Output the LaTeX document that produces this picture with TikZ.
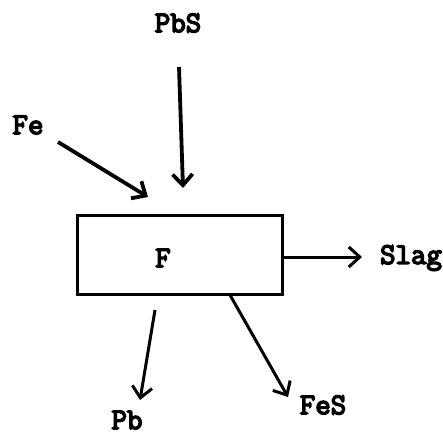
\documentclass[tikz,border=0pt]{standalone}
\usepackage{fontspec}
\newfontfamily\twfont{Latin Modern Mono}[FakeBold=5]
\usetikzlibrary{arrows.meta}
\begin{document}
\begin{tikzpicture}[x=1pt,y=-1pt,
  lbl/.style={font=\twfont\fontsize{30}{30}\selectfont, inner sep=0pt, anchor=center},
  flow/.style={line width=3pt, -{Straight Barb[length=11pt,width=20pt,line width=3pt]}},
  heavy/.style={line width=3.8pt, -{Straight Barb[length=11pt,width=20pt,line width=3.8pt]}},
  unit/.style={draw, line width=3pt, minimum width=205pt, minimum height=79pt, inner sep=0pt}]
\useasboundingbox (0,0) rectangle (443,436);
\node[unit] (F) at (179.5,254.5) {};
\node[lbl] (Flab) at (163,258) {F};
\node[lbl] (PbS) at (178,23) {PbS};
\node[lbl] (Fe) at (28,125) {Fe};
\node[lbl] (Slag) at (411,258) {Slag};
\node[lbl] (Pb) at (127,420) {Pb};
\node[lbl] (FeS) at (323,405) {FeS};
\coordinate (pbsA) at (179,67);
\coordinate (pbsB) at (183,188);
\coordinate (feA) at (58,142);
\coordinate (feB) at (148,197);
\coordinate (slA) at (282,257);
\coordinate (slB) at (362,257);
\coordinate (pbA) at (155,310);
\coordinate (pbB) at (140,400);
\coordinate (fesA) at (230,295);
\coordinate (fesB) at (288,397);
\draw[heavy] (pbsA) -- (pbsB);
\draw[heavy] (feA) -- (feB);
\draw[flow] (slA) -- (slB);
\draw[flow] (pbA) -- (pbB);
\draw[flow] (fesA) -- (fesB);
\end{tikzpicture}
\end{document}
